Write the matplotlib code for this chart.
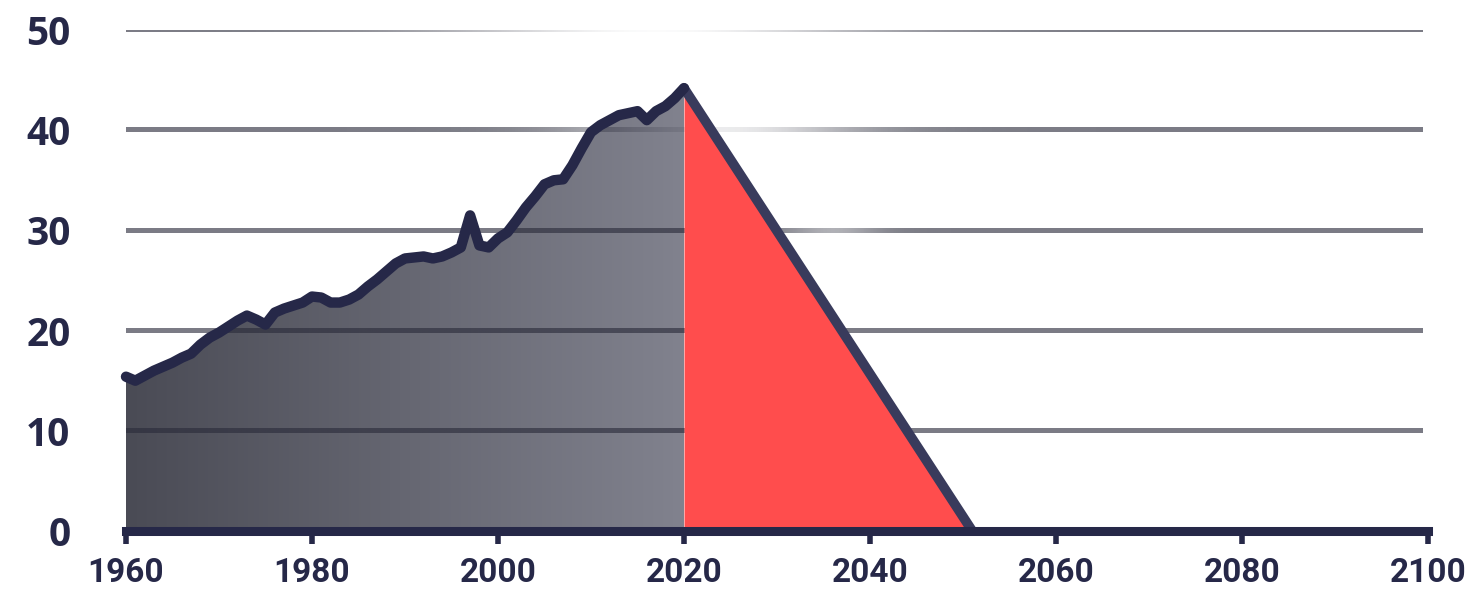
import numpy as np
import matplotlib
matplotlib.use("Agg")
import matplotlib.pyplot as plt
from matplotlib.colors import LinearSegmentedColormap, to_rgb
from matplotlib.patches import Polygon
from matplotlib import font_manager

# historical emissions
years = list(range(1960, 2021))
values = [15.4, 15.0, 15.5, 16.0, 16.4, 16.8, 17.3, 17.7, 18.6, 19.3,
          19.8, 20.4, 21.0, 21.5, 21.1, 20.6, 21.8, 22.2, 22.5, 22.8,
          23.4, 23.3, 22.8, 22.8, 23.1, 23.6, 24.4, 25.1, 25.9, 26.7,
          27.2, 27.3, 27.4, 27.2, 27.4, 27.8, 28.3, 31.5, 28.5, 28.3,
          29.2, 29.8, 31.0, 32.3, 33.4, 34.6, 35.0, 35.1, 36.5, 38.2,
          39.8, 40.5, 41.0, 41.5, 41.7, 41.9, 41.0, 41.9, 42.4, 43.2,
          44.2]

# path to net zero
proj_years = [2020, 2051]
proj_values = [44.2, 0]

xticks = [1960, 1980, 2000, 2020, 2040, 2060, 2080, 2100]
yticks = [0, 10, 20, 30, 40, 50]
grid_levels = [10, 20, 30, 40, 50]

navy = '#262848'
navy2 = '#393b5c'
red = '#ff4d4d'

names = {f.name for f in font_manager.fontManager.ttflist}
narrow = 'Liberation Sans Narrow' if 'Liberation Sans Narrow' in names else 'Roboto'

fig = plt.figure(figsize=(14.81, 5.93), dpi=100)
ax = fig.add_axes([126/1481, 1-531/593, 1302/1481, 501/593])
ax.set_xlim(1960, 2100)
ax.set_ylim(0, 50)

# gradient grey fill under the historical curve
cmap = LinearSegmentedColormap.from_list('g', ['#4a4b55', '#81828e'])
grad = np.linspace(0, 1, 256).reshape(1, -1)
im = ax.imshow(grad, cmap=cmap, extent=(1960, 2020, 0, 50), aspect='auto', zorder=1)
poly = Polygon(list(zip(years, values)) + [(2020, 0), (1960, 0)], closed=True,
               facecolor='none', edgecolor='none')
ax.add_patch(poly)
im.set_clip_path(poly)

# grid lines, the upper ones fade out around the peak (glow effect)
fade = {50: (2017, 24, 0.97), 40: (2024, 15, 0.85), 30: (2036, 5, 0.4)}
gx = np.linspace(1959.8, 2099.4, 800)
base = to_rgb('#2a2b3a')
for lvl in grid_levels:
    c, w, d = fade.get(lvl, (2000, 1, 0))
    rgba = np.zeros((1, len(gx), 4))
    rgba[..., :3] = base
    rgba[0, :, 3] = 0.62 * (1 - d * np.exp(-((gx - c) / w) ** 2))
    ax.imshow(rgba, extent=(gx[0], gx[-1], lvl - 0.22, lvl + 0.22),
              aspect='auto', interpolation='bilinear', zorder=2)

# red triangle to net zero
ax.fill_between(proj_years, proj_values, 0, color=red, lw=0, zorder=3)

ax.plot(years, values, color=navy, lw=7.5, solid_joinstyle='round',
        solid_capstyle='round', zorder=5, clip_on=False)
ax.plot(proj_years, proj_values, color=navy2, lw=7, solid_capstyle='round', zorder=4)

ax.set_xlim(1960, 2100)
ax.set_ylim(0, 50)
for s in ['top', 'right', 'left']:
    ax.spines[s].set_visible(False)
ax.spines['bottom'].set_color(navy)
ax.spines['bottom'].set_linewidth(6.5)
ax.spines['bottom'].set_zorder(6)

xfont = font_manager.FontProperties(family=[narrow, 'DejaVu Sans'], weight='bold', size=24)
yfont = font_manager.FontProperties(family=['Open Sans', 'DejaVu Sans'], weight='bold', size=28)
ax.set_xticks(xticks)
ax.set_xticklabels([str(x) for x in xticks], fontproperties=xfont, color=navy)
ax.set_yticks(yticks)
ax.set_yticklabels([str(y) for y in yticks], fontproperties=yfont, color=navy)
ax.tick_params(axis='x', length=9, width=4, color=navy, pad=10)
ax.tick_params(axis='y', length=0, pad=40)

fig.savefig('out.png', dpi=100)
